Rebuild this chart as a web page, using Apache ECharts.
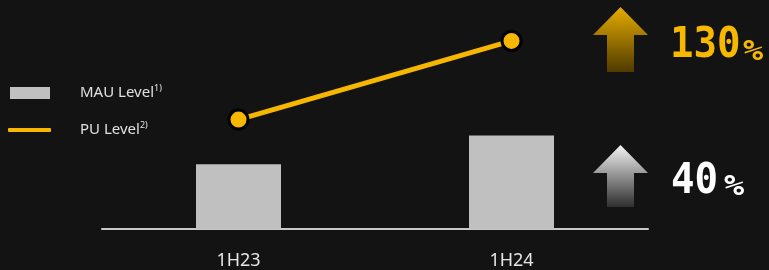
<!DOCTYPE html>
<html>
<head>
<meta charset="utf-8">
<script src="https://cdn.jsdelivr.net/npm/echarts@6/dist/echarts.min.js"></script>
<style>
html,body{margin:0;padding:0;background:#131313;}
#chart{width:769px;height:270px;}
</style>
</head>
<body>
<div id="chart"></div>
<script>
var categories = ['1H23', '1H24'];
var mauLevel = [65, 94];
var puLevel = [110, 189];
var seriesNames = ['MAU Level', 'PU Level'];
var growthLabels = ['130', '40'];

var chart = echarts.init(document.getElementById('chart'));

function arrow(top, headY, bottom, c1, c2) {
  return {
    type: 'polygon',
    shape: { points: [[620.5, top], [648, headY], [634, headY], [634, bottom], [607, bottom], [607, headY], [593, headY]] },
    style: {
      fill: new echarts.graphic.LinearGradient(0, 0, 0, 1, [
        { offset: 0, color: c1 }, { offset: 1, color: c2 }
      ])
    },
    silent: true
  };
}

var bigFont = '"DejaVu Sans Mono", monospace';
var legendRich = {
  a: { fontFamily: 'Noto Sans', fontSize: 15, color: '#e0e0e0', lineHeight: 18 },
  s: { fontFamily: 'Noto Sans', fontSize: 9, color: '#e0e0e0', verticalAlign: 'top', lineHeight: 10 }
};

var option = {
  backgroundColor: '#131313',
  animation: false,
  grid: { left: 102, right: 121, top: 30, bottom: 40 },
  legend: [
    {
      data: [{ name: seriesNames[0], icon: 'rect' }],
      orient: 'vertical', left: 5, top: 79,
      itemWidth: 40, itemHeight: 12,
      formatter: function (n) { return '{a|' + n + '}{s|1)}'; },
      textStyle: { color: '#e0e0e0', padding: [0, 0, 0, 25], rich: legendRich },
      selectedMode: false
    },
    {
      data: [{ name: seriesNames[1], icon: 'roundRect' }],
      orient: 'vertical', left: 3, top: 116,
      itemWidth: 43, itemHeight: 4,
      itemStyle: { borderWidth: 0, color: '#f7b600' },
      formatter: function (n) { return '{a|' + n + '}{s|2)}'; },
      textStyle: { color: '#e0e0e0', padding: [0, 0, 0, 24], rich: legendRich },
      selectedMode: false
    }
  ],
  xAxis: {
    type: 'category',
    data: categories,
    boundaryGap: true,
    axisLine: { lineStyle: { color: '#c8c8c8', width: 2 } },
    axisTick: { show: false },
    axisLabel: { color: '#e6e6e6', fontSize: 18, fontFamily: 'Noto Sans', margin: 23 }
  },
  yAxis: {
    type: 'value', min: 0, max: 200,
    show: false, splitLine: { show: false }
  },
  series: [
    {
      name: seriesNames[0], type: 'bar', data: mauLevel,
      barWidth: 85,
      itemStyle: { color: '#c0c0c0' }
    },
    {
      name: seriesNames[1], type: 'line', data: puLevel,
      lineStyle: { color: '#f7b600', width: 5 },
      itemStyle: { color: '#f7b600', borderColor: '#000', borderWidth: 3 },
      symbol: 'circle', symbolSize: 19, z: 5
    }
  ],
  graphic: [
    arrow(7, 35, 72, '#e6ac00', '#4f3a00'),
    arrow(145, 173, 207, '#f4f4f4', '#2e2e2e'),
    {
      type: 'text', x: 670, y: 45.5, scaleX: 0.91, silent: true,
      style: { text: growthLabels[0], fill: '#f7b900', font: 'bold 43px ' + bigFont, verticalAlign: 'middle', align: 'left' }
    },
    {
      type: 'text', x: 743, y: 53, scaleX: 1.2, silent: true,
      style: { text: '%', fill: '#f7b900', font: 'bold 28px ' + bigFont, verticalAlign: 'middle', align: 'left' }
    },
    {
      type: 'text', x: 671, y: 181.5, scaleX: 0.91, silent: true,
      style: { text: growthLabels[1], fill: '#ffffff', font: 'bold 43px ' + bigFont, verticalAlign: 'middle', align: 'left' }
    },
    {
      type: 'text', x: 724, y: 188, scaleX: 1.2, silent: true,
      style: { text: '%', fill: '#ffffff', font: 'bold 28px ' + bigFont, verticalAlign: 'middle', align: 'left' }
    }
  ]
};
chart.setOption(option);
</script>
</body>
</html>
